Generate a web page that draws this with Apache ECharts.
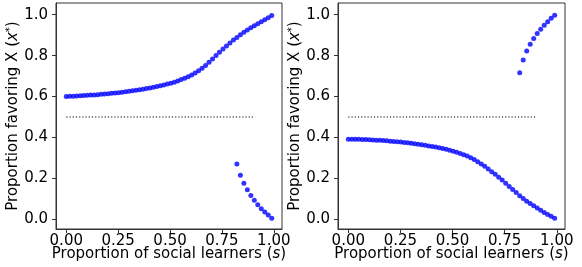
<!DOCTYPE html>
<html><head><meta charset="utf-8">
<script src="https://cdn.jsdelivr.net/npm/echarts@6/dist/echarts.min.js"></script>
<style>html,body{margin:0;padding:0;background:#fff}#c{width:582px;height:267px}</style>
</head><body><div id="c"></div>
<script>
// proportion of social learners (s)
var sValues = [0,0.0168,0.0336,0.0503,0.0671,0.0839,0.1007,0.1175,0.1342,0.1510,
  0.1678,0.1846,0.2014,0.2181,0.2349,0.2517,0.2685,0.2853,0.3020,0.3188,
  0.3356,0.3524,0.3692,0.3859,0.4027,0.4195,0.4363,0.4531,0.4698,0.4866,
  0.5034,0.5202,0.5369,0.5537,0.5705,0.5873,0.6041,0.6208,0.6376,0.6544,
  0.6712,0.6880,0.7047,0.7215,0.7383,0.7551,0.7719,0.7886,0.8054,0.8222,
  0.8390,0.8558,0.8725,0.8893,0.9061,0.9229,0.9397,0.9564,0.9732,0.9900];
// left panel, main branch
var leftMain = [0.600,0.601,0.602,0.603,0.604,0.605,0.606,0.607,0.608,0.609,
  0.611,0.612,0.614,0.616,0.617,0.619,0.621,0.623,0.626,0.628,
  0.631,0.633,0.636,0.639,0.642,0.646,0.649,0.653,0.657,0.661,
  0.665,0.670,0.676,0.683,0.690,0.697,0.705,0.715,0.726,0.738,
  0.752,0.767,0.783,0.800,0.816,0.832,0.847,0.862,0.876,0.889,
  0.902,0.914,0.925,0.936,0.946,0.956,0.966,0.975,0.985,0.996];
// left panel, second branch (s index 49..59)
var leftAlt = [0.270,0.216,0.177,0.145,0.117,0.093,0.071,0.052,0.036,0.021,0.006];
// right panel, main branch
var rightMain = [0.392,0.392,0.391,0.391,0.390,0.390,0.389,0.388,0.387,0.386,
  0.385,0.384,0.382,0.381,0.379,0.378,0.376,0.374,0.372,0.370,
  0.367,0.365,0.362,0.359,0.356,0.353,0.350,0.346,0.342,0.338,
  0.333,0.328,0.322,0.316,0.309,0.301,0.292,0.282,0.271,0.259,
  0.246,0.233,0.220,0.206,0.192,0.176,0.161,0.146,0.131,0.116,
  0.102,0.089,0.077,0.066,0.055,0.045,0.033,0.024,0.015,0.006];
// right panel, second branch (s index 49..59)
var rightAlt = [0.716,0.779,0.822,0.856,0.884,0.908,0.929,0.948,0.966,0.982,0.997];
var altStart = 49;
// reference line
var refLineX = [0, 0.9];
var refLineY = 0.5;
var xTicks = [0, 0.25, 0.5, 0.75, 1.0];
var yTicks = [0, 0.2, 0.4, 0.6, 0.8, 1.0];

function pairs(xs, ys, offset) {
  return ys.map(function (v, i) { return [xs[i + offset], v]; });
}
var FONT = 'DejaVu Sans';
var FS = 15;
var grids = [
  {left: 56, top: 3, width: 226, height: 226, show: true, borderColor: '#333', borderWidth: 1,
   containLabel: false, outerBoundsMode: 'none'},
  {left: 338, top: 3, width: 227, height: 226, show: true, borderColor: '#333', borderWidth: 1,
   containLabel: false, outerBoundsMode: 'none'}
];
function xAxis(idx) {
  return {
    type: 'value', gridIndex: idx, min: -0.0495, max: 1.0395,
    splitLine: {show: false},
    axisLine: {show: true, onZero: false, lineStyle: {color: '#333', width: 1}},
    axisTick: {show: true, length: 4, inside: false, customValues: xTicks, lineStyle: {color: '#333'}},
    axisLabel: {customValues: xTicks, margin: 5, color: '#000', fontFamily: FONT, fontSize: FS,
      formatter: function (v) { return v.toFixed(2); }},
    name: 'Proportion of social learners ({i|s})', nameLocation: 'middle', nameGap: 18,
    nameMoveOverlap: false,
    nameTextStyle: {color: '#000', fontFamily: FONT, fontSize: FS,
      rich: {i: {fontStyle: 'italic', fontFamily: FONT, fontSize: FS, color: '#000'}}}
  };
}
function yAxis(idx) {
  return {
    type: 'value', gridIndex: idx, min: -0.047, max: 1.057,
    splitLine: {show: false},
    axisLine: {show: true, onZero: false, lineStyle: {color: '#333', width: 1}},
    axisTick: {show: true, length: 4, inside: false, customValues: yTicks, lineStyle: {color: '#333'}},
    axisLabel: {customValues: yTicks, margin: 8, color: '#000', fontFamily: FONT, fontSize: FS,
      formatter: function (v) { return v.toFixed(1); }},
    name: 'Proportion favoring X ({i|x}{s|*})', nameLocation: 'middle', nameGap: 34,
    nameMoveOverlap: false,
    nameTextStyle: {color: '#000', fontFamily: FONT, fontSize: FS,
      rich: {i: {fontStyle: 'italic', fontFamily: FONT, fontSize: FS, color: '#000'},
             s: {fontFamily: FONT, fontSize: 10, color: '#000', verticalAlign: 'top', padding: [0, 0, 7, 0]}}}
  };
}
function dots(xi, data) {
  return {type: 'scatter', xAxisIndex: xi, yAxisIndex: xi, data: data, symbol: 'circle',
    symbolSize: 5, itemStyle: {color: '#0000ff'}, silent: true, animation: false};
}
function refLine(xi) {
  return {type: 'line', xAxisIndex: xi, yAxisIndex: xi, showSymbol: false, silent: true, animation: false,
    data: refLineX.map(function (x) { return [x, refLineY]; }),
    lineStyle: {color: '#000', width: 1.2, type: [1.2, 2]}};
}
var chart = echarts.init(document.getElementById('c'), null, {renderer: 'canvas'});
chart.setOption({
  animation: false,
  grid: grids,
  xAxis: [xAxis(0), xAxis(1)],
  yAxis: [yAxis(0), yAxis(1)],
  series: [
    refLine(0),
    dots(0, pairs(sValues, leftMain, 0)),
    dots(0, pairs(sValues, leftAlt, altStart)),
    refLine(1),
    dots(1, pairs(sValues, rightMain, 0)),
    dots(1, pairs(sValues, rightAlt, altStart))
  ]
});
</script></body></html>
